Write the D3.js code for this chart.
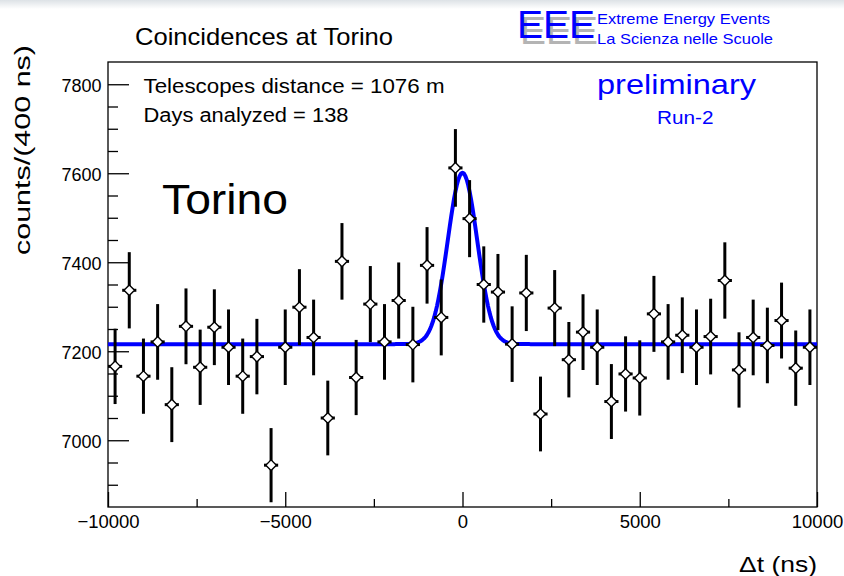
<!DOCTYPE html>
<html>
<head>
<meta charset="utf-8">
<script src="https://cdn.jsdelivr.net/npm/d3@7"></script>
<style>
  html, body { margin: 0; padding: 0; background: #ffffff; }
  svg { display: block; }
  text { font-family: "Liberation Sans", Arial, Helvetica, sans-serif; }
</style>
</head>
<body>
<svg id="chart" width="844" height="576"></svg>
<script>
// Coincidence time-difference histogram, 400 ns bins
const binCenters = [
  -9800, -9400, -9000, -8600, -8200, -7800, -7400, -7000, -6600, -6200,
  -5800, -5400, -5000, -4600, -4200, -3800, -3400, -3000, -2600, -2200,
  -1800, -1400, -1000, -600, -200, 200, 600, 1000, 1400, 1800,
  2200, 2600, 3000, 3400, 3800, 4200, 4600, 5000, 5400, 5800,
  6200, 6600, 7000, 7400, 7800, 8200, 8600, 9000, 9400, 9800
];
const counts = [
  7166, 7337, 7144, 7221, 7080, 7256, 7164, 7254, 7209, 7144,
  7188, 6944, 7209, 7299, 7231, 7050, 7402, 7141, 7306, 7221,
  7314, 7215, 7393, 7276, 7612, 7498, 7350, 7333, 7216, 7331,
  7059, 7297, 7181, 7243, 7209, 7087, 7149, 7140, 7284, 7221,
  7236, 7209, 7233, 7359, 7158, 7231, 7213, 7269, 7162, 7209
];
const binWidth = 400;

// Gaussian + constant fit: [constant, amplitude, mean, sigma]
const fitParams = [7216, 385, 0, 415];

const xMajorTicks = [-10000, -5000, 0, 5000, 10000];
const xMinorTicks = [-7500, -2500, 2500, 7500];
const yMajorTicks = [7000, 7200, 7400, 7600, 7800];
const yMinorTicks = [6900, 6950, 7050, 7100, 7150, 7250, 7300, 7350, 7450, 7500, 7550, 7650, 7700, 7750];

const frame = { left: 108, right: 817, top: 62, bottom: 507 };
const svg = d3.select("#chart");

const x = d3.scaleLinear().domain([-10000, 10000]).range([frame.left, frame.right]);
const y = d3.scaleLinear().domain([6850, 7850]).range([frame.bottom, frame.top]);

// faint band along the top edge of the page
const defs = svg.append("defs");
const grad = defs.append("linearGradient").attr("id", "topband")
  .attr("x1", 0).attr("y1", 0).attr("x2", 0).attr("y2", 1);
grad.append("stop").attr("offset", "0%").attr("stop-color", "#dde2e6");
grad.append("stop").attr("offset", "100%").attr("stop-color", "#ffffff");
svg.append("rect").attr("x", 0).attr("y", 0).attr("width", 844).attr("height", 9)
  .attr("fill", "url(#topband)");

// plot frame
svg.append("rect")
  .attr("x", frame.left).attr("y", frame.top)
  .attr("width", frame.right - frame.left).attr("height", frame.bottom - frame.top)
  .attr("fill", "none").attr("stroke", "#000").attr("stroke-width", 1.3);

// axes (ticks point into the frame)
const fmt = d => (d < 0 ? "\u2212" : "") + Math.abs(d);

const yAxis = svg.append("g").attr("transform", `translate(${frame.left},0)`)
  .call(d3.axisLeft(y).tickValues(yMajorTicks).tickSize(-21).tickPadding(6.5).tickFormat(fmt));
svg.append("g").attr("transform", `translate(${frame.left},0)`)
  .call(d3.axisLeft(y).tickValues(yMinorTicks).tickSize(-10).tickFormat(""));

const xAxis = svg.append("g").attr("transform", `translate(0,${frame.bottom})`)
  .call(d3.axisBottom(x).tickValues(xMajorTicks).tickSize(-15).tickPadding(8).tickFormat(fmt));
svg.append("g").attr("transform", `translate(0,${frame.bottom})`)
  .call(d3.axisBottom(x).tickValues(xMinorTicks).tickSize(-8).tickFormat(""));

svg.selectAll(".domain").remove();
svg.selectAll(".tick line").attr("stroke", "#000").attr("stroke-width", 1.3);
yAxis.selectAll("text").attr("font-family", "Liberation Sans, Arial, sans-serif")
  .attr("font-size", 18).attr("fill", "#000").attr("dy", "0.4em");
xAxis.selectAll("text").attr("font-family", "Liberation Sans, Arial, sans-serif")
  .attr("font-size", 18.5).attr("fill", "#000");

// fitted curve
const fitFn = t => fitParams[0] + fitParams[1] * Math.exp(-0.5 * Math.pow((t - fitParams[2]) / fitParams[3], 2));
const curveX = d3.range(-10000, 10000.1, 40);
svg.append("path")
  .datum(curveX)
  .attr("fill", "none").attr("stroke", "#0000ff").attr("stroke-width", 4)
  .attr("stroke-linejoin", "round")
  .attr("d", d3.line().x(t => x(t)).y(t => y(fitFn(t))));

// data points with Poisson errors
const pts = binCenters.map((c, i) => ({ c, n: counts[i], e: Math.sqrt(counts[i]) }));
const g = svg.append("g");
g.selectAll("line.ey").data(pts).join("line").attr("class", "ey")
  .attr("x1", d => x(d.c)).attr("x2", d => x(d.c))
  .attr("y1", d => y(d.n - d.e)).attr("y2", d => y(d.n + d.e))
  .attr("stroke", "#000").attr("stroke-width", 3);
g.selectAll("line.ex").data(pts).join("line").attr("class", "ex")
  .attr("x1", d => x(d.c - binWidth / 2)).attr("x2", d => x(d.c + binWidth / 2))
  .attr("y1", d => y(d.n)).attr("y2", d => y(d.n))
  .attr("stroke", "#000").attr("stroke-width", 3);
const r = 5.3;
g.selectAll("path.mk").data(pts).join("path").attr("class", "mk")
  .attr("d", d => {
    const cx = x(d.c), cy = y(d.n);
    return `M${cx},${cy - r}L${cx + r},${cy}L${cx},${cy + r}L${cx - r},${cy}Z`;
  })
  .attr("fill", "#fff").attr("stroke", "#000").attr("stroke-width", 1.4);

// texts
function label(txt, xp, yp, size, len, color, anchor) {
  const t = svg.append("text").attr("x", xp).attr("y", yp)
    .attr("font-size", size).attr("fill", color || "#000")
    .attr("text-anchor", anchor || "start").text(txt);
  if (len) t.attr("textLength", len).attr("lengthAdjust", "spacingAndGlyphs");
  return t;
}

label("Coincidences at Torino", 135, 45, 24, 258);
label("Telescopes distance = 1076 m", 143.5, 92.5, 19.5, 301);
label("Days analyzed = 138", 143.5, 121.5, 19.5, 205);
label("Torino", 162, 214, 42, 126);
label("preliminary", 597, 93.5, 28, 159, "#0000ff");
label("Run-2", 657, 124, 18.5, 56.5, "#0000ff");

// EEE logo with its grey drop shadow
const logo = svg.append("g");
logo.append("text").attr("x", 520).attr("y", 44).attr("font-size", 38)
  .attr("fill", "#b4b4b4").attr("textLength", 78).attr("lengthAdjust", "spacingAndGlyphs")
  .text("EEE");
logo.append("text").attr("x", 517).attr("y", 37.5).attr("font-size", 38)
  .attr("fill", "#0000ff").attr("textLength", 78).attr("lengthAdjust", "spacingAndGlyphs")
  .text("EEE");
label("Extreme Energy Events", 597, 23.5, 15, 173, "#0000ff");
label("La Scienza nelle Scuole", 597, 44, 15, 176, "#0000ff");

// axis titles
label("\u0394t (ns)", 817, 572, 22, 78, "#000", "end");
svg.append("text")
  .attr("transform", "translate(29.5,150) rotate(-90)")
  .attr("text-anchor", "middle").attr("font-size", 22).attr("fill", "#000")
  .attr("textLength", 210).attr("lengthAdjust", "spacingAndGlyphs")
  .text("counts/(400 ns)");
</script>
</body>
</html>
